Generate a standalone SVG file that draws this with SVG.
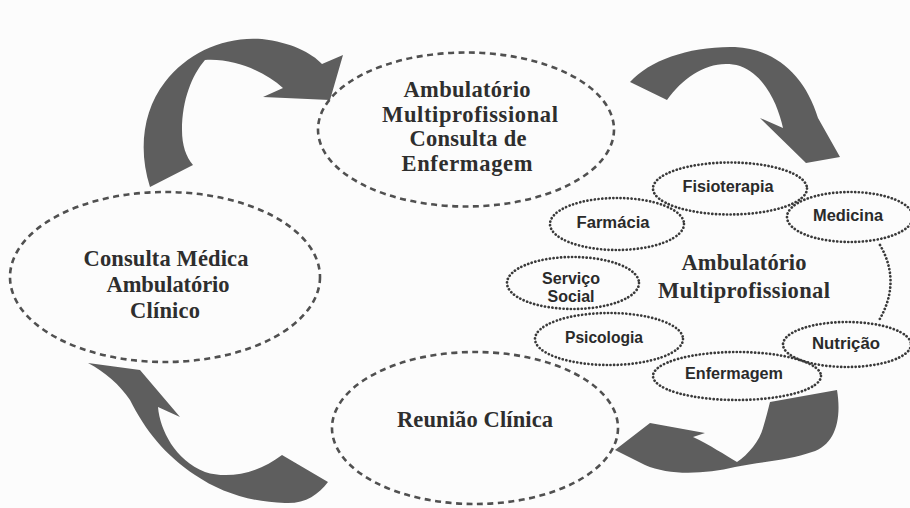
<svg xmlns="http://www.w3.org/2000/svg" width="910" height="508" viewBox="0 0 910 508">
<defs>
<style>
.bg{fill:#fcfcfc}
.arrow{fill:#5e5e5e}
.dash{fill:none;stroke:#505050;stroke-width:2.6;stroke-dasharray:6 4.5}
.dot{fill:none;stroke:#3a3a3a;stroke-width:2.7;stroke-dasharray:0.1 3.6;stroke-linecap:round}
.big{font-family:"Liberation Serif","Times New Roman",serif;font-weight:bold;font-size:22.5px;fill:#2e2e2e;text-anchor:middle}
.small{font-family:"Liberation Sans",Arial,sans-serif;font-weight:bold;font-size:16px;fill:#2a2a2a;text-anchor:middle}
</style>
</defs>
<rect class="bg" x="0" y="0" width="910" height="508"/>
<g id="connectors">
<path class="arrow" d="M150,187 C138,150 143,110 165,82 C188,52 225,36 262,39 C290,42 312,53 322,64 L343,55 L330,100 L263,97 L283,88 C265,72 235,58 205,60 C192,75 182,100 182,130 C182,145 186,157 193,165 Z"/>
<path class="arrow" d="M630,82 C650,60 690,46 735,47 C775,49 805,75 818,118 L840,157 L806,163 L760,118 L783,128 C778,105 765,75 740,66 C712,58 685,75 667,100 Z"/>
<path class="arrow" d="M770,402 L837,390 C842,420 835,445 812,452 C790,460 760,462 735,467 C705,474 670,476 645,465 L615,450 L650,423 L705,433 L693,437 C710,445 725,455 737,462 C748,455 760,440 763,428 C766,418 768,410 770,402 Z"/>
<path class="arrow" d="M88,363 L140,370 L180,417 L158,407 C160,430 175,460 205,472 C230,480 260,472 282,455 L328,482 C318,495 305,504 285,503 C250,502 220,492 195,475 C165,455 145,430 130,400 C120,385 105,372 88,363 Z"/>
</g>
<g id="top-node">
<ellipse class="dash" cx="466" cy="129.5" rx="148" ry="77"/>
<text class="big" x="467" y="97" textLength="127" lengthAdjust="spacing">Ambulatório</text>
<text class="big" x="470" y="122" textLength="176" lengthAdjust="spacing">Multiprofissional</text>
<text class="big" x="468" y="146" textLength="117" lengthAdjust="spacing">Consulta de</text>
<text class="big" x="467" y="171" textLength="131" lengthAdjust="spacing">Enfermagem</text>
</g>
<g id="left-node">
<ellipse class="dash" cx="165" cy="277" rx="155" ry="85"/>
<text class="big" x="166" y="266" textLength="165" lengthAdjust="spacing">Consulta Médica</text>
<text class="big" x="168" y="292" textLength="123" lengthAdjust="spacing">Ambulatório</text>
<text class="big" x="165" y="318" textLength="70" lengthAdjust="spacing">Clínico</text>
</g>
<g id="bottom-node">
<ellipse class="dash" cx="475" cy="428" rx="143" ry="76"/>
<text class="big" x="475" y="427" textLength="156" lengthAdjust="spacing">Reunião Clínica</text>
</g>
<g id="right-node">
<path class="dot" d="M880,245 Q902,283 878,322"/>
<text class="big" x="744" y="270" textLength="125" lengthAdjust="spacing">Ambulatório</text>
<text class="big" x="744" y="298" textLength="172" lengthAdjust="spacing">Multiprofissional</text>
</g>
<g id="fisioterapia">
<ellipse class="dot" cx="730" cy="188.5" rx="77" ry="26"/>
<text class="small" x="728" y="192" textLength="91" lengthAdjust="spacingAndGlyphs">Fisioterapia</text>
</g>
<g id="farmacia">
<ellipse class="dot" cx="617" cy="224" rx="67" ry="26"/>
<text class="small" x="613" y="228" textLength="73" lengthAdjust="spacingAndGlyphs">Farmácia</text>
</g>
<g id="medicina">
<ellipse class="dot" cx="850" cy="217" rx="63" ry="25"/>
<text class="small" x="848" y="221" textLength="70" lengthAdjust="spacingAndGlyphs">Medicina</text>
</g>
<g id="servico-social">
<ellipse class="dot" cx="573" cy="283" rx="66" ry="26"/>
<text class="small" x="571" y="284" textLength="58" lengthAdjust="spacingAndGlyphs">Serviço</text>
<text class="small" x="571" y="302" textLength="47" lengthAdjust="spacingAndGlyphs">Social</text>
</g>
<g id="psicologia">
<ellipse class="dot" cx="609" cy="339" rx="74" ry="26"/>
<text class="small" x="604" y="343" textLength="78" lengthAdjust="spacingAndGlyphs">Psicologia</text>
</g>
<g id="nutricao">
<ellipse class="dot" cx="847" cy="344.5" rx="64" ry="22.5"/>
<text class="small" x="846" y="349" textLength="68" lengthAdjust="spacingAndGlyphs">Nutrição</text>
</g>
<g id="enfermagem">
<ellipse class="dot" cx="737" cy="376" rx="84" ry="24"/>
<text class="small" x="734" y="379" textLength="98" lengthAdjust="spacingAndGlyphs">Enfermagem</text>
</g>
</svg>
